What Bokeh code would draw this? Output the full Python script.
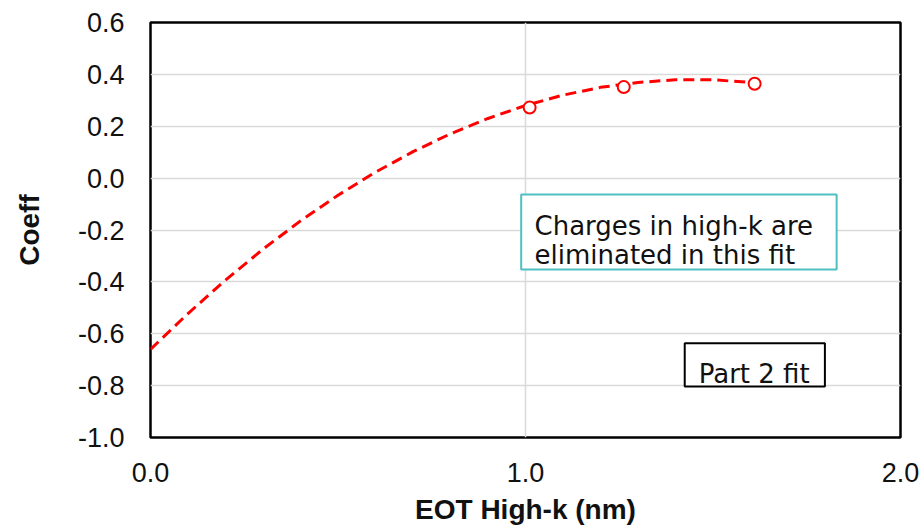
from bokeh.plotting import figure
from bokeh.models import FixedTicker, NumeralTickFormatter, BoxAnnotation, Label, Range1d
from bokeh.embed import file_html
from bokeh.resources import INLINE

# measured points
pt_x = [1.011, 1.262, 1.611]
pt_y = [0.272, 0.351, 0.364]

# fit curve
fit_x = [0.0, 0.1, 0.2, 0.3, 0.4, 0.5, 0.6, 0.7, 0.8, 0.9, 1.0, 1.1, 1.2, 1.3, 1.4, 1.5, 1.6, 1.62]
fit_y = [-0.660, -0.522, -0.393, -0.274, -0.165, -0.066, 0.023, 0.102, 0.171, 0.230,
         0.280, 0.320, 0.350, 0.369, 0.379, 0.379, 0.369, 0.366]

x_ticks = [0.0, 1.0, 2.0]
y_ticks = [-1.0, -0.8, -0.6, -0.4, -0.2, 0.0, 0.2, 0.4, 0.6]

note_lines = ["Charges in high-k are", "eliminated in this fit"]
part_text = "Part 2 fit"

p = figure(width=924, height=529, output_backend="svg", toolbar_location=None,
           x_range=Range1d(0, 2), y_range=Range1d(-1.0, 0.6),
           min_border_left=150, min_border_right=24, min_border_top=22, min_border_bottom=92)

p.outline_line_color = "black"
p.outline_line_width = 2.5
p.outline_line_alpha = 1.0
p.background_fill_color = "white"
p.border_fill_color = "white"

p.xaxis.ticker = FixedTicker(ticks=x_ticks)
p.yaxis.ticker = FixedTicker(ticks=y_ticks)
p.xaxis.formatter = NumeralTickFormatter(format="0.0")
p.yaxis.formatter = NumeralTickFormatter(format="0.0")
for ax in (p.xaxis, p.yaxis):
    ax.axis_line_color = None
    ax.major_tick_line_color = None
    ax.minor_tick_line_color = None
    ax.major_label_text_font = "Liberation Sans"
    ax.major_label_text_font_size = "27px"
    ax.major_label_text_color = "#111111"
    ax.axis_label_text_font = "Liberation Sans"
    ax.axis_label_text_font_style = "bold"
    ax.axis_label_text_font_size = "28px"
    ax.axis_label_text_color = "#111111"
p.xaxis.axis_label = "EOT High-k (nm)"
p.yaxis.axis_label = "Coeff"
p.xaxis.major_label_standoff = 19
p.yaxis.major_label_standoff = 20
p.xaxis.axis_label_standoff = 9
p.yaxis.axis_label_standoff = 30

p.xgrid.grid_line_color = "#d9d9d9"
p.ygrid.grid_line_color = "#d9d9d9"
p.xgrid.grid_line_width = 1.5
p.ygrid.grid_line_width = 1.5

p.line(fit_x, fit_y, line_color="red", line_width=3, line_dash="11 6")
p.scatter(pt_x, pt_y, marker="circle", size=12, fill_color="white",
          line_color="red", line_width=2)

# text boxes
p.add_layout(BoxAnnotation(left=0.9885, right=1.8297, top=-0.0631, bottom=-0.3522,
                           fill_color="white", fill_alpha=1.0,
                           line_color="#4FBFC0", line_alpha=1.0, line_width=2))
p.add_layout(BoxAnnotation(left=1.4246, right=1.7984, top=-0.6363, bottom=-0.8032,
                           fill_color="white", fill_alpha=1.0,
                           line_color="black", line_alpha=1.0, line_width=2))

for txt, yb in zip(note_lines, [-0.1864, -0.2982]):
    p.add_layout(Label(x=1.024, y=yb, text=txt, text_font="DejaVu Sans",
                       text_font_size="26px", text_color="#111111",
                       text_baseline="alphabetic", text_align="left"))
p.add_layout(Label(x=1.4619, y=-0.7543, text=part_text, text_font="DejaVu Sans",
                   text_font_size="26px", text_color="#111111",
                   text_baseline="alphabetic", text_align="left"))

open("out.html", "w").write(file_html(p, INLINE))
